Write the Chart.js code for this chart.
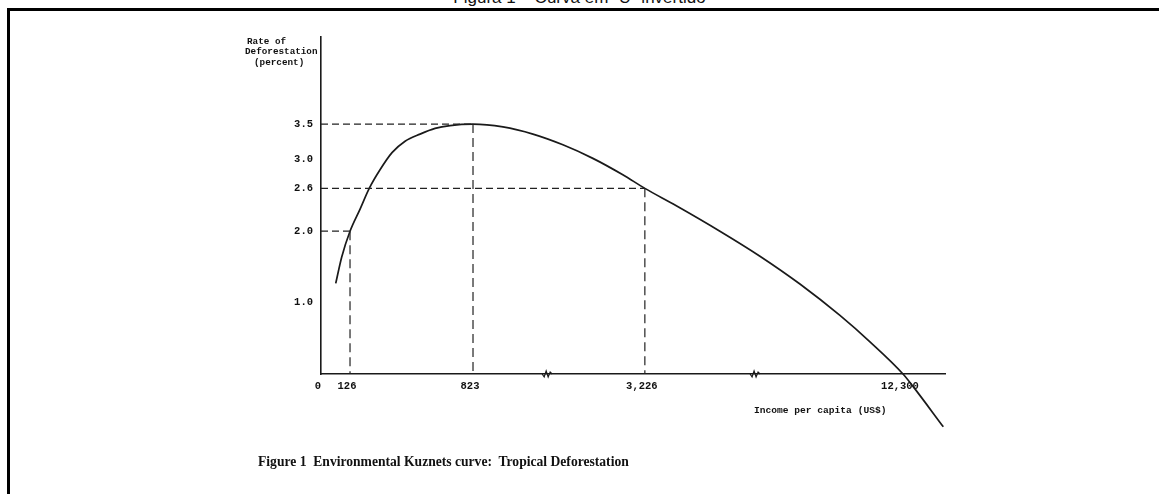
<!DOCTYPE html>
<html>
<head>
<meta charset="utf-8">
<title>Environmental Kuznets curve: Tropical Deforestation</title>
<script src="https://cdn.jsdelivr.net/npm/chart.js@4.4.1/dist/chart.umd.min.js"></script>
<style>
  html, body { margin:0; padding:0; background:#fff; }
  #wrap { position:relative; width:1159px; height:494px; overflow:hidden; background:#fff; }
  #chart { position:absolute; left:0; top:0; }
  .frame { position:absolute; left:7px; top:8px; width:1200px; height:600px; border-top:3px solid #000; border-left:3px solid #000; }
  .top-title { position:absolute; left:0; width:1159px; top:-10px; line-height:16px; text-align:center;
               font-family:"Liberation Sans", Arial, sans-serif; font-size:17px; color:#111; }
  .mono { position:absolute; font-family:"Liberation Mono", monospace; font-weight:bold; color:#111; white-space:pre; line-height:10.5px; }
  .caption { position:absolute; left:258px; top:454px; font-family:"Liberation Serif", "Times New Roman", serif;
             font-weight:bold; font-size:13.6px; color:#111; white-space:pre; }
</style>
</head>
<body>
<div id="wrap">
  <div class="top-title">Figura 1 – Curva em “U” invertido</div>
  <div class="frame"></div>
  <canvas id="chart" width="1159" height="494"></canvas>
  <div class="mono" style="left:247px;top:37px;font-size:9.3px">Rate of</div>
  <div class="mono" style="left:245px;top:47px;font-size:9.3px">Deforestation</div>
  <div class="mono" style="left:254px;top:58px;font-size:9.3px">(percent)</div>
  <div class="mono" style="left:754px;top:406px;font-size:9.6px">Income per capita (US$)</div>
  <div class="caption">Figure 1  Environmental Kuznets curve:  Tropical Deforestation</div>
</div>
<script>
// Tick labels
const rateTicks = [1.0, 2.0, 2.6, 3.0, 3.5];
const incomeTicks = [0, 126, 823, 3226, 12300];

// Curve (income US$, deforestation %)
const curveIncome = [64, 90, 126, 183, 235, 296, 364, 438, 523, 608, 693, 823,
                     1242, 1661, 2080, 2499, 2918, 3226, 4316, 5864, 7271, 8677, 10084, 11139, 12300, 12650, 13740];
const curveRate   = [1.27, 1.64, 2.0, 2.31, 2.6, 2.86, 3.10, 3.26, 3.36, 3.44, 3.48, 3.5,
                     3.46, 3.36, 3.21, 3.02, 2.79, 2.6, 2.36, 2.00, 1.65, 1.26, 0.82, 0.45, 0, -0.17, -0.74];

// Dashed guide lines
const markIncome = [126, 823, 3226];
const markRate = [2.0, 3.5, 2.6];

// Axis breaks
const breakIncome = [1860, 7100];

// broken x axis: income value -> fraction of axis length
const axisStops = [[0, 0], [126, 0.0465], [823, 0.2436], [3226, 0.519], [12300, 0.9327], [13800, 1]];

function toFrac(v){
  let i = 1;
  while (i < axisStops.length - 1 && v > axisStops[i][0]) i++;
  const [v0,f0] = axisStops[i-1], [v1,f1] = axisStops[i];
  return f0 + (v - v0) / (v1 - v0) * (f1 - f0);
}
function fromFrac(f){
  let i = 1;
  while (i < axisStops.length - 1 && f > axisStops[i][1]) i++;
  const [v0,f0] = axisStops[i-1], [v1,f1] = axisStops[i];
  return v0 + (f - f0) / (f1 - f0) * (v1 - v0);
}

class BrokenScale extends Chart.LinearScale {
  getPixelForValue(value){ return this.getPixelForDecimal(toFrac(value)); }
  getValueForPixel(pixel){ return fromFrac(this.getDecimalForPixel(pixel)); }
}
BrokenScale.id = 'broken';
BrokenScale.defaults = Chart.LinearScale.defaults;
Chart.register(BrokenScale);

const ink = '#1a1a1a';
const tickFont = {family:'Liberation Mono', size:10.5, weight:'bold'};

const dashed = (data, dash) => ({
  data, showLine:true, borderColor:'#222', borderWidth:1.2, pointRadius:0, borderDash:dash
});
const hGuides = markIncome.map((inc,i)=>dashed([{x:0, y:markRate[i]}, {x:inc, y:markRate[i]}], [7,4]));
const vGuides = markIncome.map((inc,i)=>dashed([{x:inc, y:markRate[i]}, {x:inc, y:0}], [9,5]));

const curve = {
  data: curveIncome.map((x,i)=>({x, y:curveRate[i]})),
  showLine: true,
  borderColor: ink,
  borderWidth: 1.7,
  pointRadius: 0,
  cubicInterpolationMode: 'monotone',
  clip: false
};

// little zigzags marking the breaks on the x axis
const breakMarks = {
  id: 'breakMarks',
  afterDraw(chart){
    const {ctx, scales:{x}, chartArea} = chart;
    const y = chartArea.bottom;
    ctx.save();
    ctx.strokeStyle = ink; ctx.lineWidth = 1.2;
    breakIncome.forEach(v=>{
      const px = x.getPixelForValue(v);
      ctx.beginPath();
      ctx.moveTo(px-5, y);
      ctx.lineTo(px-3, y+3);
      ctx.lineTo(px-1, y-3);
      ctx.lineTo(px+1, y+3);
      ctx.lineTo(px+3, y-2);
      ctx.lineTo(px+5, y);
      ctx.stroke();
    });
    ctx.restore();
  }
};

new Chart(document.getElementById('chart'), {
  type: 'scatter',
  data: { datasets: [...hGuides, ...vGuides, curve] },
  options: {
    responsive: false,
    animation: false,
    events: [],
    layout: { padding: {left:281, top:37, right:214, bottom:90} },
    plugins: { legend:{display:false}, tooltip:{enabled:false} },
    scales: {
      x: {
        type: 'broken',
        min: 0, max: 13800,
        afterFit: s => { s.height = 30; },
        afterBuildTicks: s => { s.ticks = incomeTicks.map(v=>({value:v})); },
        grid: { display:false, drawTicks:false },
        border: { display:true, color:ink, width:1.4 },
        ticks: { font:tickFont, color:'#111', padding:6, labelOffset:-3, maxRotation:0, autoSkip:false,
                 callback: v => v.toLocaleString('en-US') }
      },
      y: {
        min: 0, max: 4.72,
        afterFit: s => { s.width = 40; },
        afterBuildTicks: s => { s.ticks = rateTicks.map(v=>({value:v})); },
        grid: { display:false, drawTicks:false },
        border: { display:true, color:ink, width:1.6 },
        ticks: { font:tickFont, color:'#111', padding:8, autoSkip:false,
                 callback: v => v.toFixed(1) }
      }
    }
  },
  plugins: [breakMarks]
});
</script>
</body>
</html>
